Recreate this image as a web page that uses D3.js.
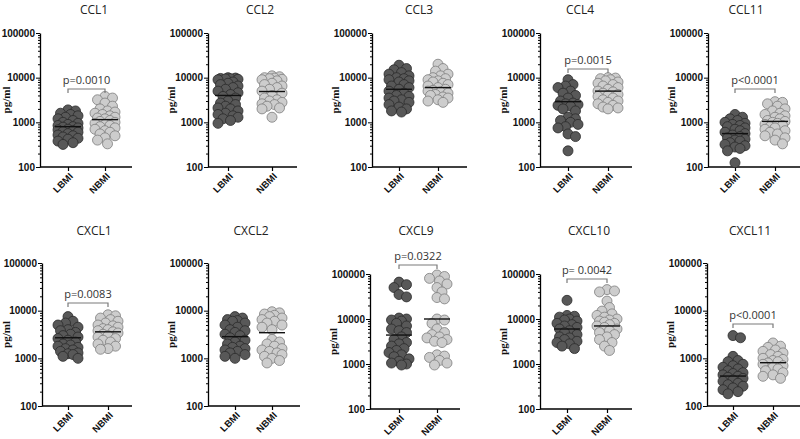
<!DOCTYPE html>
<html>
<head>
<meta charset="utf-8">
<script src="https://cdn.jsdelivr.net/npm/d3@7"></script>
<style>
  body { margin: 0; background: #fff; }
  svg { display: block; }
  .title { font-family: "Open Sans", sans-serif; font-size: 12px; fill: #222; }
  .y-axis text { font-family: "Liberation Sans", Arial, sans-serif; font-weight: bold; font-size: 10px; fill: #111; }
  .x-axis text { font-family: "Liberation Sans", Arial, sans-serif; font-weight: bold; font-size: 9.5px; fill: #111; }
  .unit { font-family: "Liberation Serif", "Times New Roman", serif; font-weight: bold; font-size: 11px; fill: #111; }
  .pval { font-family: "Open Sans", sans-serif; font-size: 11px; fill: #333; }
</style>
</head>
<body>
<svg id="chart" width="800" height="439"></svg>
<script>
// Panels and groups
const panelNames = ['CCL1', 'CCL2', 'CCL3', 'CCL4', 'CCL11', 'CXCL1', 'CXCL2', 'CXCL9', 'CXCL10', 'CXCL11'];
const groups = ['LBMI', 'NBMI'];
const yTickLabels = [100, 1000, 10000, 100000];

// Values (pg/ml)
const ccl1Lbmi = [1900, 1800, 1600, 1500, 1400, 1300, 1200, 1100, 1000, 950, 900, 850, 800, 780, 750, 700, 680, 650, 620, 600, 560, 520, 500, 470, 440, 420, 380, 350, 320];
const ccl1Nbmi = [3800, 3500, 3200, 2700, 2300, 2000, 1800, 1700, 1600, 1500, 1400, 1300, 1250, 1200, 1100, 1050, 1000, 950, 900, 850, 800, 750, 700, 650, 600, 550, 500, 450, 400, 330];
const ccl2Lbmi = [10000, 9800, 9600, 9500, 9400, 9200, 9000, 8000, 7500, 7000, 6500, 6000, 5500, 5000, 4600, 4200, 3800, 3500, 3000, 2700, 2500, 2300, 2100, 2000, 1800, 1600, 1500, 1400, 1300, 1200, 1100, 950];
const ccl2Nbmi = [11000, 10500, 10000, 9800, 9500, 9200, 9000, 8500, 7500, 7000, 6500, 6000, 5500, 5000, 4500, 4000, 3500, 3200, 3000, 2800, 2600, 2500, 2300, 2100, 2000, 1300];
const ccl3Lbmi = [19000, 16000, 15000, 13000, 12000, 11000, 10000, 9500, 9000, 8500, 8000, 7000, 6500, 6000, 5500, 5000, 4500, 4000, 3800, 3500, 3200, 3000, 2800, 2500, 2200, 2000, 1800, 1700];
const ccl3Nbmi = [20000, 16000, 14000, 12000, 11000, 10000, 9500, 9000, 8500, 8000, 7500, 7000, 6500, 6000, 5500, 5200, 5000, 4800, 4500, 4200, 4000, 3700, 3500, 3200, 3000, 2800];
const ccl4Lbmi = [9000, 7000, 6500, 6000, 5000, 4500, 4000, 3500, 3000, 2700, 2600, 2500, 2400, 2300, 2000, 1800, 1300, 1200, 1100, 1000, 900, 800, 750, 550, 480, 230];
const ccl4Nbmi = [10000, 9800, 9500, 9000, 8500, 8000, 7500, 7000, 6500, 6000, 5500, 5000, 4800, 4500, 4200, 4000, 3800, 3500, 3200, 3000, 2800, 2600, 2400, 2200, 2100, 2000];
const ccl11Lbmi = [1500, 1300, 1200, 1100, 1000, 950, 900, 850, 800, 750, 700, 650, 600, 560, 520, 480, 450, 420, 400, 380, 350, 320, 300, 280, 260, 230, 125];
const ccl11Nbmi = [2900, 2800, 2600, 2300, 2000, 1800, 1600, 1500, 1400, 1300, 1200, 1100, 1050, 1000, 950, 900, 850, 800, 750, 700, 650, 600, 550, 500, 450, 400, 330];
const cxcl1Lbmi = [7500, 6000, 5500, 5000, 4500, 4000, 3800, 3500, 3200, 3000, 2800, 2600, 2400, 2200, 2000, 1900, 1800, 1700, 1600, 1500, 1400, 1300, 1250, 1200, 1100, 1000];
const cxcl1Nbmi = [8200, 7800, 7000, 6500, 6000, 5500, 5000, 4800, 4500, 4200, 4000, 3800, 3600, 3400, 3200, 3000, 2800, 2600, 2400, 2200, 2000, 1800, 1600, 1550];
const cxcl2Lbmi = [7500, 7000, 6500, 6200, 6000, 5500, 5000, 4500, 4000, 3800, 3500, 3200, 3000, 2700, 2400, 2200, 2000, 1800, 1700, 1600, 1500, 1400, 1300, 1200, 1100, 1000];
const cxcl2Nbmi = [9500, 9000, 8500, 8000, 7500, 7000, 6500, 6000, 5500, 5000, 4500, 4000, 2500, 2200, 2000, 1800, 1600, 1500, 1400, 1300, 1200, 1100, 1000, 900, 800];
const cxcl9Lbmi = [66000, 58000, 50000, 35000, 31000, 10500, 10000, 9500, 9000, 8000, 7000, 6000, 5500, 5000, 4000, 3500, 3000, 2800, 2500, 2200, 2000, 1800, 1600, 1450, 1300, 1150, 1050, 1000, 950];
const cxcl9Nbmi = [95000, 88000, 80000, 70000, 60000, 50000, 40000, 30000, 28000, 10000, 9500, 8000, 6000, 5000, 4500, 4000, 3800, 3500, 3200, 3000, 1600, 1500, 1400, 1200, 1050, 950];
const cxcl10Lbmi = [26000, 12000, 11500, 11000, 10000, 9500, 9000, 8000, 7500, 7000, 6500, 6000, 5500, 5000, 4500, 4000, 3800, 3500, 3200, 3000, 2800, 2500, 2200];
const cxcl10Nbmi = [45000, 42000, 40000, 25000, 18000, 15000, 13000, 12000, 11000, 10000, 9500, 9000, 8500, 8000, 7500, 7000, 6500, 6000, 5500, 5000, 4500, 4000, 3500, 3000, 2500, 2000];
const cxcl11Lbmi = [3000, 2700, 1100, 900, 850, 750, 700, 650, 600, 550, 500, 480, 450, 420, 400, 380, 350, 330, 300, 280, 260, 240, 220, 200, 180];
const cxcl11Nbmi = [2100, 1800, 1700, 1500, 1400, 1300, 1200, 1100, 1000, 950, 900, 850, 800, 750, 700, 650, 600, 550, 500, 450, 420, 380];

const panelValues = [
  [ccl1Lbmi, ccl1Nbmi], [ccl2Lbmi, ccl2Nbmi], [ccl3Lbmi, ccl3Nbmi], [ccl4Lbmi, ccl4Nbmi], [ccl11Lbmi, ccl11Nbmi],
  [cxcl1Lbmi, cxcl1Nbmi], [cxcl2Lbmi, cxcl2Nbmi], [cxcl9Lbmi, cxcl9Nbmi], [cxcl10Lbmi, cxcl10Nbmi], [cxcl11Lbmi, cxcl11Nbmi]
];

// Mean lines (pg/ml)
const meanValues = [
  [800, 1150], [4000, 4900], [5500, 6000], [2900, 5000], [560, 1050],
  [2700, 3600], [2850, 3450], [4400, 10000], [6000, 7000], [425, 810]
];

const pLabels = ['p=0.0010', null, null, 'p=0.0015', 'p<0.0001', 'p=0.0083', null, 'p=0.0322', 'p= 0.0042', 'p<0.0001'];

// Where each small panel sits on the page
const layout = [
  { x0: 40,  x1: 132, c: [68, 105],  yt: 33,  yb: 167, tx: 94,  ty: 14,  by: 89 },
  { x0: 208, x1: 297, c: [228, 272], yt: 33,  yb: 167, tx: 260, ty: 14 },
  { x0: 372, x1: 467, c: [399, 438], yt: 33,  yb: 167, tx: 419, ty: 14 },
  { x0: 540, x1: 632, c: [568, 608], yt: 33,  yb: 167, tx: 580, ty: 14,  by: 69 },
  { x0: 708, x1: 800, c: [735, 775], yt: 33,  yb: 167, tx: 746, ty: 14,  by: 89 },
  { x0: 42,  x1: 132, c: [68, 108],  yt: 263, yb: 406, tx: 94,  ty: 235, by: 303 },
  { x0: 208, x1: 300, c: [235, 272], yt: 263, yb: 406, tx: 251, ty: 235 },
  { x0: 370, x1: 460, c: [399, 437], yt: 274, yb: 409, tx: 416, ty: 235, by: 265 },
  { x0: 540, x1: 632, c: [567, 607], yt: 274, yb: 409, tx: 589, ty: 235, by: 279 },
  { x0: 707, x1: 800, c: [733, 773], yt: 263, yb: 406, tx: 750, ty: 235, by: 324 }
];

const fills = ['#585858', '#cdcdcd'];
const strokes = ['#2b2b2b', '#7d7d7d'];

// all tick positions on the log axis (minor ones too)
const allTicks = [];
[100, 1000, 10000].forEach(d => { for (let k = 1; k < 10; k++) allTicks.push(d * k); });
allTicks.push(100000);

// simple beeswarm so the dots spread sideways like the original
function swarm(vals, y, cx) {
  const placed = [];
  const pts = vals.map(v => ({ v: v, y: y(v) })).sort((a, b) => a.y - b.y);
  const step = 2.5, minD = 6.5, maxK = 8;
  pts.forEach(p => {
    let best = 0, bestD = -1;
    for (let k = 0; k <= maxK; k++) {
      const off = (k % 2 ? 1 : -1) * Math.ceil(k / 2) * step;
      let d = Infinity;
      placed.forEach(q => { d = Math.min(d, Math.hypot(q.x - cx - off, q.y - p.y)); });
      if (d >= minD) { best = off; bestD = d; break; }
      if (d > bestD) { bestD = d; best = off; }
    }
    p.x = cx + best;
    placed.push(p);
  });
  return placed;
}

const svg = d3.select('#chart');

panelNames.forEach((name, i) => {
  const L = layout[i];
  const g = svg.append('g');

  const y = d3.scaleLog().domain([100, 100000]).range([L.yb, L.yt]);
  const x = d3.scalePoint().domain(groups).range(L.c);

  // title
  g.append('text').attr('class', 'title')
    .attr('x', L.tx).attr('y', L.ty)
    .attr('text-anchor', 'middle')
    .text(name);

  // y axis
  const yAxis = g.append('g').attr('class', 'y-axis')
    .attr('transform', `translate(${L.x0},0)`)
    .call(d3.axisLeft(y).tickValues(allTicks).tickSize(4).tickSizeOuter(0).tickPadding(1)
      .tickFormat(d => yTickLabels.includes(d) ? String(d) : ''));
  yAxis.select('.domain').attr('stroke', '#000').attr('stroke-width', 1.3);
  yAxis.selectAll('.tick line')
    .attr('stroke', '#000')
    .attr('stroke-width', 1)
    .attr('x2', d => yTickLabels.includes(d) ? -4 : -2);

  // unit label (kept inside the page for the first column)
  g.append('text').attr('class', 'unit')
    .attr('transform', `translate(${Math.max(L.x0 - 33, 10)},${(L.yt + L.yb) / 2}) rotate(-90)`)
    .attr('text-anchor', 'middle')
    .text('pg/ml');

  // x axis
  const xAxis = g.append('g').attr('class', 'x-axis')
    .attr('transform', `translate(0,${L.yb})`)
    .call(d3.axisBottom(x).tickSizeInner(4).tickSizeOuter(0));
  xAxis.select('.domain').remove();
  xAxis.selectAll('.tick line').attr('stroke', '#000').attr('stroke-width', 1.2);
  xAxis.selectAll('.tick text')
    .attr('x', 0).attr('y', 0).attr('dy', 0)
    .attr('transform', 'translate(5,10) rotate(-45)')
    .style('text-anchor', 'end');
  g.append('line')
    .attr('x1', L.x0).attr('x2', L.x1)
    .attr('y1', L.yb).attr('y2', L.yb)
    .attr('stroke', '#000').attr('stroke-width', 1.3);

  // dots
  groups.forEach((grp, j) => {
    const pts = swarm(panelValues[i][j], y, x(grp));
    g.append('g').selectAll('circle')
      .data(pts)
      .enter()
      .append('circle')
      .attr('cx', d => d.x)
      .attr('cy', d => d.y)
      .attr('r', 5)
      .attr('fill', fills[j])
      .attr('stroke', strokes[j])
      .attr('stroke-width', 0.8);

    // mean line
    g.append('line')
      .attr('x1', x(grp) - 13).attr('x2', x(grp) + 13)
      .attr('y1', y(meanValues[i][j])).attr('y2', y(meanValues[i][j]))
      .attr('stroke', '#111').attr('stroke-width', 1.4);
  });

  // significance bracket
  if (pLabels[i]) {
    const xa = x(groups[0]), xb = x(groups[1]);
    g.append('path')
      .attr('d', `M${xa},${L.by + 4}V${L.by}H${xb}V${L.by + 4}`)
      .attr('fill', 'none')
      .attr('stroke', '#7a7a7a')
      .attr('stroke-width', 1.2);
    g.append('text').attr('class', 'pval')
      .attr('x', (xa + xb) / 2).attr('y', L.by - 5)
      .attr('text-anchor', 'middle')
      .text(pLabels[i]);
  }
});
</script>
</body>
</html>
